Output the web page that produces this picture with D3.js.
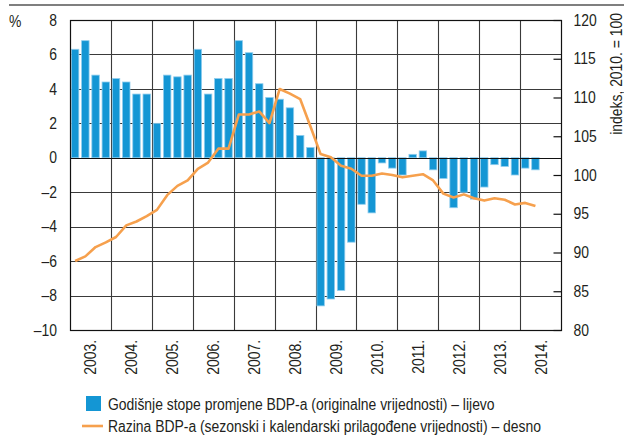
<!DOCTYPE html>
<html>
<head>
<meta charset="utf-8">
<script src="https://cdn.jsdelivr.net/npm/d3@7"></script>
<style>
  body { margin: 0; background: #fff; }
  text { font-family: "Liberation Sans", Arial, sans-serif; fill: #231f20; }
</style>
</head>
<body>
<div id="chart"></div>
<script>
// years on the x axis, four quarters each
var years = [2003, 2004, 2005, 2006, 2007, 2008, 2009, 2010, 2011, 2012, 2013, 2014];
var yearLabels = ["2003.", "2004.", "2005.", "2006.", "2007.", "2008.", "2009.", "2010.", "2011.", "2012.", "2013.", "2014."];

// annual GDP growth rates (%), 2003Q1 - 2014Q2, left axis
var growth = [
  6.3, 6.8, 4.8, 4.4,
  4.6, 4.4, 3.7, 3.7,
  2.0, 4.8, 4.7, 4.8,
  6.3, 3.7, 4.6, 4.6,
  6.8, 6.1, 4.3, 3.5,
  3.4, 2.9, 1.3, 0.6,
  -8.6, -8.2, -7.7, -4.9,
  -2.7, -3.2, -0.3, -0.6,
  -1.0, 0.2, 0.4, -0.7,
  -1.2, -2.9, -2.0, -2.4,
  -1.7, -0.4, -0.5, -1.0,
  -0.6, -0.7
];

// GDP level, seasonally adjusted, index 2010 = 100, right axis
var level = [
  88.9, 89.5, 90.7, 91.3,
  92.0, 93.5, 94.0, 94.7,
  95.5, 97.4, 98.6, 99.3,
  100.8, 101.6, 103.4, 103.4,
  107.8, 107.8, 108.2, 106.7,
  111.1, 110.5, 109.8, 106.3,
  102.7, 102.3, 101.2, 100.8,
  99.9, 99.9, 100.2, 100.0,
  99.7, 99.9, 100.1, 99.3,
  97.6, 97.1, 97.5, 97.0,
  96.7, 97.0, 96.8, 96.2,
  96.4, 96.0
];

var leftTicks = [-10, -8, -6, -4, -2, 0, 2, 4, 6, 8];
var rightTicks = [80, 85, 90, 95, 100, 105, 110, 115, 120];

var legendLabels = [
  "Godišnje stope promjene BDP-a (originalne vrijednosti) – lijevo",
  "Razina BDP-a (sezonski i kalendarski prilagođene vrijednosti) – desno"
];

var svgWidth = 624;
var svgHeight = 436;
var margin = { top: 20, right: 63, bottom: 106, left: 70 };
var width = svgWidth - margin.left - margin.right;
var height = svgHeight - margin.top - margin.bottom;

var barColor = "#1496d4";
var lineColor = "#f6a04d";
var gridColor = "#3a3a3a";
var fontSize = 16;
var narrow = 0.87; // no condensed face installed, squeeze the regular one

var svg = d3.select("#chart").append("svg")
    .attr("width", svgWidth)
    .attr("height", svgHeight);

// thin rule at the very top
svg.append("line")
    .attr("x1", 9).attr("x2", svgWidth)
    .attr("y1", 5).attr("y2", 5)
    .attr("stroke", "#555").attr("stroke-width", 1.5);

var chartGroup = svg.append("g").attr("transform", `translate(${margin.left}, ${margin.top})`);

var quarters = years.flatMap(y => [y + "Q1", y + "Q2", y + "Q3", y + "Q4"]);

var xScale = d3.scaleBand().domain(quarters).range([0, width]).paddingInner(0.27).paddingOuter(0.135);
var yearScale = d3.scaleBand().domain(years).range([0, width]);
var yLeft = d3.scaleLinear().domain([-10, 8]).range([height, 0]);
var yRight = d3.scaleLinear().domain([80, 120]).range([height, 0]);

// horizontal grid
chartGroup.selectAll(".hgrid")
    .data(leftTicks.filter(t => t !== 0))
    .enter().append("line")
    .attr("x1", 0).attr("x2", width)
    .attr("y1", d => Math.round(yLeft(d)) + 0.5)
    .attr("y2", d => Math.round(yLeft(d)) + 0.5)
    .attr("stroke", gridColor).attr("stroke-width", 1.1);

// vertical grid at year boundaries
chartGroup.selectAll(".vgrid")
    .data(years.slice(1))
    .enter().append("line")
    .attr("x1", d => Math.round(yearScale(d)) + 0.5)
    .attr("x2", d => Math.round(yearScale(d)) + 0.5)
    .attr("y1", 0).attr("y2", height)
    .attr("stroke", gridColor).attr("stroke-width", 1.1);

// bars
chartGroup.selectAll("rect.bar")
    .data(growth)
    .enter().append("rect")
    .attr("class", "bar")
    .attr("x", (d, i) => xScale(quarters[i]))
    .attr("width", xScale.bandwidth())
    .attr("y", d => yLeft(Math.max(0, d)))
    .attr("height", d => Math.abs(yLeft(d) - yLeft(0)))
    .attr("fill", barColor)
    .attr("stroke", "#8fcdee")
    .attr("stroke-width", 0.8);

// zero line
chartGroup.append("line")
    .attr("x1", 0).attr("x2", width)
    .attr("y1", Math.round(yLeft(0)) + 0.5).attr("y2", Math.round(yLeft(0)) + 0.5)
    .attr("stroke", "#111").attr("stroke-width", 1.2);

// frame
chartGroup.append("rect")
    .attr("x", 0.5).attr("y", 0.5)
    .attr("width", width).attr("height", height)
    .attr("fill", "none").attr("stroke", "#111").attr("stroke-width", 1.2);

// level line
var line = d3.line()
    .x((d, i) => xScale(quarters[i]) + xScale.bandwidth() / 2)
    .y(d => yRight(d));

chartGroup.append("path")
    .datum(level)
    .attr("d", line)
    .attr("fill", "none")
    .attr("stroke", lineColor)
    .attr("stroke-width", 2.6)
    .attr("stroke-linejoin", "round");

// left axis
var leftAxis = d3.axisLeft(yLeft).tickValues(leftTicks).tickSize(0).tickPadding(0)
    .tickFormat(d => d < 0 ? "–" + Math.abs(d) : d);
var gLeft = chartGroup.append("g").call(leftAxis);
gLeft.select(".domain").remove();
gLeft.selectAll("text")
    .attr("x", 0)
    .attr("transform", `translate(-13, 0) scale(${narrow}, 1)`)
    .attr("font-size", fontSize).style("font-family", null);

// right axis, ticks point inward
var rightAxis = d3.axisRight(yRight).tickValues(rightTicks).tickSizeInner(-8).tickSizeOuter(0).tickPadding(0);
var gRight = chartGroup.append("g").attr("transform", `translate(${width + 0.5}, 0)`).call(rightAxis);
gRight.select(".domain").remove();
gRight.selectAll("line").attr("stroke", "#111").attr("stroke-width", 1.2);
gRight.selectAll("text")
    .attr("x", 0)
    .attr("transform", `translate(12, 0) scale(${narrow}, 1)`)
    .attr("font-size", fontSize).style("font-family", null);

// year labels, rotated
chartGroup.selectAll(".yearLabel")
    .data(years)
    .enter().append("text")
    .attr("transform", d => `translate(${yearScale(d) + yearScale.bandwidth() / 2 + 6}, ${height + 10}) rotate(-90) scale(${narrow}, 1)`)
    .attr("text-anchor", "end")
    .attr("font-size", fontSize)
    .text((d, i) => yearLabels[i]);

// unit labels
svg.append("text")
    .attr("transform", `translate(9, 27) scale(${narrow}, 1)`)
    .attr("font-size", fontSize)
    .text("%");

svg.append("text")
    .attr("transform", `translate(622, 13) rotate(-90) scale(${narrow}, 1)`)
    .attr("text-anchor", "end")
    .attr("font-size", fontSize)
    .text("indeks, 2010. = 100");

// legend
var legend = svg.append("g");
legend.append("rect")
    .attr("x", 86).attr("y", 396)
    .attr("width", 15).attr("height", 15)
    .attr("fill", barColor);
legend.append("text")
    .attr("transform", `translate(108, 410) scale(${narrow}, 1)`)
    .attr("font-size", fontSize)
    .text(legendLabels[0]);
legend.append("line")
    .attr("x1", 82).attr("x2", 103)
    .attr("y1", 426).attr("y2", 426)
    .attr("stroke", lineColor).attr("stroke-width", 2.6);
legend.append("text")
    .attr("transform", `translate(108, 432) scale(${narrow}, 1)`)
    .attr("font-size", fontSize)
    .text(legendLabels[1]);
</script>
</body>
</html>
